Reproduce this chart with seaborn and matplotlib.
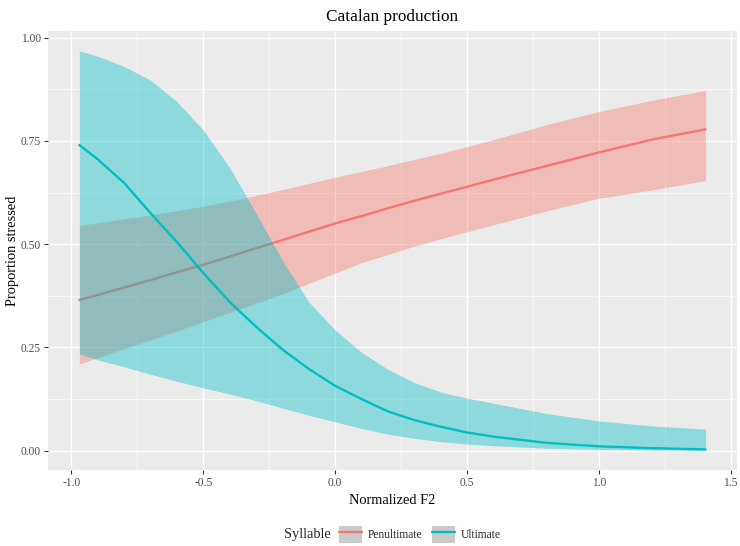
import numpy as np
import pandas as pd
import matplotlib
matplotlib.use("Agg")
import matplotlib.pyplot as plt
import seaborn as sns
from matplotlib.lines import Line2D
from matplotlib.patches import Patch

# values
f2 = [-0.97, -0.9, -0.8, -0.7, -0.6, -0.5, -0.4, -0.3, -0.2, -0.1, 0.0,
      0.1, 0.2, 0.3, 0.4, 0.5, 0.6, 0.8, 1.0, 1.2, 1.405]

pen_fit = [0.365, 0.377, 0.395, 0.413, 0.432, 0.45, 0.47, 0.49, 0.51, 0.53, 0.55,
           0.568, 0.587, 0.605, 0.622, 0.639, 0.656, 0.689, 0.722, 0.753, 0.778]
pen_lo = [0.21, 0.225, 0.247, 0.268, 0.29, 0.312, 0.335, 0.357, 0.38, 0.405, 0.43,
          0.455, 0.475, 0.495, 0.513, 0.53, 0.547, 0.58, 0.611, 0.631, 0.654]
pen_hi = [0.545, 0.552, 0.561, 0.571, 0.581, 0.592, 0.604, 0.618, 0.632, 0.647, 0.662,
          0.676, 0.69, 0.705, 0.72, 0.736, 0.753, 0.789, 0.821, 0.848, 0.872]

ult_fit = [0.74, 0.705, 0.648, 0.575, 0.505, 0.43, 0.36, 0.30, 0.245, 0.198, 0.157,
           0.125, 0.095, 0.074, 0.058, 0.044, 0.034, 0.019, 0.0105, 0.006, 0.003]
ult_lo = [0.234, 0.22, 0.203, 0.185, 0.168, 0.152, 0.137, 0.121, 0.103, 0.086, 0.07,
          0.054, 0.04, 0.03, 0.022, 0.016, 0.012, 0.006, 0.003, 0.0018, 0.001]
ult_hi = [0.968, 0.955, 0.93, 0.897, 0.845, 0.776, 0.685, 0.575, 0.46, 0.36, 0.292,
          0.238, 0.197, 0.165, 0.142, 0.127, 0.115, 0.09, 0.072, 0.06, 0.052]

syllables = ["Penultimate", "Ultimate"]
palette = {"Penultimate": "#F8766D", "Ultimate": "#00BFC4"}

df = pd.DataFrame({
    "F2": f2 * 2,
    "fit": pen_fit + ult_fit,
    "lo": pen_lo + ult_lo,
    "hi": pen_hi + ult_hi,
    "Syllable": ["Penultimate"] * len(f2) + ["Ultimate"] * len(f2),
})

sns.set_theme(style="darkgrid", rc={
    "axes.facecolor": "#EBEBEB",
    "grid.color": "white",
    "axes.edgecolor": "none",
})
plt.rcParams["font.family"] = ["Liberation Serif", "DejaVu Serif"]

fig = plt.figure(figsize=(7.4, 5.46), dpi=100)
ax = fig.add_axes([0.0649, 0.1383, 0.9310, 0.8049])

# ribbon then line for each group, like geom_smooth
z = 2
for syl in syllables:
    sub = df[df["Syllable"] == syl]
    ax.fill_between(sub["F2"], sub["lo"], sub["hi"], color=palette[syl],
                    alpha=0.4, linewidth=0, zorder=z)
    sns.lineplot(data=sub, x="F2", y="fit", color=palette[syl], linewidth=1.7,
                 ax=ax, legend=False, zorder=z + 1, sort=True)
    z += 2

ax.set_xlim(-1.089, 1.524)
ax.set_ylim(-0.048, 1.016)
ax.set_xticks([-1.0, -0.5, 0.0, 0.5, 1.0, 1.5])
ax.set_xticklabels(["-1.0", "-0.5", "0.0", "0.5", "1.0", "1.5"])
ax.set_yticks([0, 0.25, 0.5, 0.75, 1.0])
ax.set_yticklabels(["0.00", "0.25", "0.50", "0.75", "1.00"])
ax.set_xticks([-0.75, -0.25, 0.25, 0.75, 1.25], minor=True)
ax.set_yticks([0.125, 0.375, 0.625, 0.875], minor=True)
ax.grid(which="major", color="white", linewidth=1.0)
ax.grid(which="minor", color="white", linewidth=0.5)
ax.set_axisbelow(True)
ax.tick_params(which="major", length=3, width=0.8, color="#333333",
               labelcolor="#4D4D4D", labelsize=8.3, pad=2, bottom=True, left=True)
ax.tick_params(which="minor", length=0)

ax.set_xlabel("Normalized F2", fontsize=10.4, color="black", labelpad=3)
ax.set_ylabel("Proportion stressed", fontsize=10.4, color="black", labelpad=1.5)
ax.set_title("Catalan production", fontsize=12.4, color="black", pad=7)

handles = [(Patch(facecolor="#CBCBCB", edgecolor="none"),
            Line2D([], [], color=palette[s], linewidth=1.7)) for s in syllables]
fig.legend(handles, syllables, loc="center left", bbox_to_anchor=(0.458, 0.021),
           ncol=2, frameon=False, fontsize=8.3, handlelength=2.0, handleheight=2.0,
           handletextpad=0.5, columnspacing=0.8, borderpad=0, borderaxespad=0)
fig.text(0.3835, 0.021, "Syllable", fontsize=10.4, va="center", ha="left")

fig.savefig("out.png", dpi=100)
